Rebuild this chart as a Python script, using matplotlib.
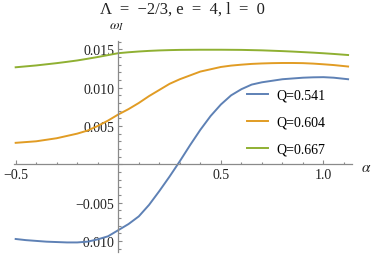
import matplotlib
matplotlib.use("Agg")
import matplotlib.pyplot as plt
from matplotlib.ticker import MultipleLocator, FuncFormatter

# values
alpha = [-0.5, -0.45, -0.4, -0.35, -0.3, -0.25, -0.2, -0.15, -0.1, -0.05,
         0.0, 0.05, 0.1, 0.15, 0.2, 0.25, 0.3, 0.35, 0.4, 0.45, 0.5, 0.55,
         0.6, 0.65, 0.7, 0.75, 0.8, 0.85, 0.9, 0.95, 1.0, 1.05, 1.12]
w_q541 = [-0.00975, -0.0099, -0.0100, -0.0101, -0.01015, -0.0102, -0.0102,
          -0.0101, -0.0098, -0.0094, -0.0086, -0.0078, -0.0068, -0.0053,
          -0.0035, -0.0016, 0.0004, 0.0025, 0.0045, 0.0063, 0.0078, 0.0090,
          0.0098, 0.0104, 0.0107, 0.0109, 0.0111, 0.0112, 0.0113, 0.01135,
          0.01137, 0.0113, 0.0111]
w_q604 = [0.0028, 0.0029, 0.0030, 0.0032, 0.0034, 0.0037, 0.0040, 0.0044,
          0.0050, 0.0057, 0.0065, 0.0072, 0.0080, 0.0089, 0.0097, 0.0105,
          0.0111, 0.0116, 0.0121, 0.0124, 0.0127, 0.01288, 0.0130, 0.0131,
          0.01316, 0.0132, 0.01322, 0.01322, 0.0132, 0.01314, 0.01305,
          0.01295, 0.01276]
w_q667 = [0.01266, 0.01278, 0.0129, 0.01305, 0.0132, 0.01337, 0.01355,
          0.01377, 0.0140, 0.01425, 0.0145, 0.01462, 0.01472, 0.0148,
          0.01486, 0.0149, 0.01493, 0.01494, 0.01495, 0.01495, 0.01495,
          0.01494, 0.01493, 0.0149, 0.01487, 0.01482, 0.01477, 0.01471,
          0.01464, 0.01457, 0.01449, 0.0144, 0.01426]
labels = ["Q=0.541", "Q=0.604", "Q=0.667"]
colors = ["#5E81B5", "#E19C24", "#8FB032"]

plt.rcParams['font.family'] = ['Liberation Serif', 'DejaVu Serif']
plt.rcParams['mathtext.fontset'] = 'stix'

fig = plt.figure(figsize=(3.74, 2.55), dpi=100)
ax = fig.add_axes([0.0364, 0.0078, 0.9053, 0.8287])

for ys, lab, c in zip([w_q541, w_q604, w_q667], labels, colors):
    ax.plot(alpha, ys, color=c, lw=1.4, label=lab)

ax.set_xlim(-0.51, 1.14)
ax.set_ylim(-0.01145, 0.01613)

# Mathematica-style axes through the origin
for s in ['top', 'right']:
    ax.spines[s].set_visible(False)
ax.spines['left'].set_position('zero')
ax.spines['bottom'].set_position('zero')
for s in ['left', 'bottom']:
    ax.spines[s].set_color('#8a8a8a')
    ax.spines[s].set_linewidth(0.9)

ax.xaxis.set_major_locator(MultipleLocator(0.5))
ax.xaxis.set_minor_locator(MultipleLocator(0.1))
ax.yaxis.set_major_locator(MultipleLocator(0.005))
ax.yaxis.set_minor_locator(MultipleLocator(0.001))

def fmt_x(v, pos):
    if abs(v) < 1e-9:
        return ""
    return f"{v:.1f}".replace("-", "\u2212")

def fmt_y(v, pos):
    if abs(v) < 1e-9:
        return ""
    return f"{v:.3f}".replace("-", "\u2212")

ax.xaxis.set_major_formatter(FuncFormatter(fmt_x))
ax.yaxis.set_major_formatter(FuncFormatter(fmt_y))
ax.tick_params(which='both', direction='in', color='#8a8a8a', width=0.8,
               labelsize=10, labelcolor='#222222')
ax.tick_params(which='major', length=3.2)
ax.tick_params(which='minor', length=1.8)
ax.tick_params(axis='x', pad=3)
ax.tick_params(axis='y', pad=3)

fig.text(182 / 374, 1 - 10 / 255, "\u039b  =  \u22122/3, e  =  4, l  =  0",
         ha='center', va='center', fontsize=12, color='#222222')
fig.text(117 / 374, 1 - 27 / 255, r"$\omega_I$", ha='center', va='center',
         fontsize=10, color='#222222')
fig.text(366 / 374, 1 - 168 / 255, r"$\alpha$", ha='center', va='center',
         fontsize=11, color='#222222')

ax.legend(loc='center left', bbox_to_anchor=(0.67, 0.615), frameon=False,
          fontsize=10, handlelength=1.45, handletextpad=0.6, labelspacing=1.0,
          borderpad=0)

plt.savefig("out.png", dpi=100)
